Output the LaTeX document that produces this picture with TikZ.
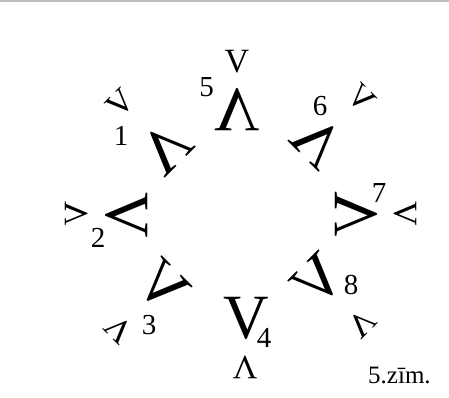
\documentclass[tikz,border=0pt]{standalone}
\usepackage{fontspec}
\setmainfont{Liberation Serif}
\begin{document}
\begin{tikzpicture}[x=1pt,y=-1pt,
  big/.style={inner sep=0pt,font=\fontsize{63}{63}\selectfont},
  small/.style={inner sep=0pt,font=\fontsize{34}{34}\selectfont},
  num/.style={inner sep=0pt,font=\fontsize{29}{29}\selectfont},
  figcap/.style={inner sep=0pt,font=\fontsize{25}{25}\selectfont}]
\useasboundingbox (0,0) rectangle (449,398);
\coordinate (ruleL) at (0,1);
\coordinate (ruleR) at (449,1);
\draw[black!25, line width=1.5pt] (ruleL) -- (ruleR);
% big letters
\node[big] (b5) at (237.5,110) {\rotatebox{180}{\reflectbox{V}}};
\node[big,rotate=225] (b1) at (166,148) {\reflectbox{V}};
\node[big,rotate=135] (b6) at (318.5,141.5) {\reflectbox{V}};
\node[big,rotate=-90] (b2) at (127,215) {V};
\node[big,rotate=90] (b7) at (356,214) {\reflectbox{V}};
\node[big,rotate=-45] (b3) at (163,286) {\reflectbox{V}};
\node[big,rotate=45] (b8) at (318,280) {\reflectbox{V}};
\node[big] (b4) at (246,318) {V};
% small letters
\node[small] (s5) at (237,61.5) {V};
\node[small,rotate=45] (s1) at (120.5,103.5) {V};
\node[small,rotate=-45] (s6) at (362,98.5) {\reflectbox{V}};
\node[small,rotate=90] (s2) at (77,214) {\reflectbox{V}};
\node[small,rotate=-90] (s7) at (405,214) {V};
\node[small,rotate=135] (s3) at (119,330) {V};
\node[small,rotate=225] (s8) at (362,324) {\reflectbox{V}};
\node[small,rotate=180] (s4) at (245,367.5) {V};
% numbers
\node[num] (n1) at (121,136) {1};
\node[num] (n2) at (98,238) {2};
\node[num] (n3) at (149,325) {3};
\node[num] (n4) at (264,337.5) {4};
\node[num] (n5) at (206.5,87.5) {5};
\node[num] (n6) at (320,106) {6};
\node[num] (n7) at (379,193) {7};
\node[num] (n8) at (351,285) {8};
\node[figcap,anchor=base west] (fig) at (368,383) {5.zīm.};
\end{tikzpicture}
\end{document}
